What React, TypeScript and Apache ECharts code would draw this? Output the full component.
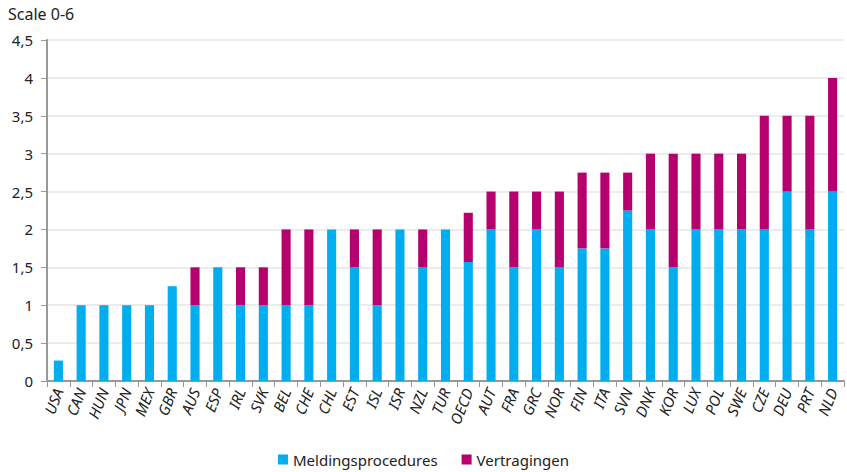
import React, { useEffect, useRef } from "react";
import * as echarts from "echarts";

const categories = ["USA","CAN","HUN","JPN","MEX","GBR","AUS","ESP","IRL","SVK","BEL","CHE","CHL","EST","ISL","ISR","NZL","TUR","OECD","AUT","FRA","GRC","NOR","FIN","ITA","SVN","DNK","KOR","LUX","POL","SWE","CZE","DEU","PRT","NLD"];
const meldingsprocedures = [0.27,1,1,1,1,1.25,1,1.5,1,1,1,1,2,1.5,1,2,1.5,2,1.57,2,1.5,2,1.5,1.75,1.75,2.25,2,1.5,2,2,2,2,2.5,2,2.5];
const vertragingen = [0,0,0,0,0,0,0.5,0,0.5,0.5,1,1,0,0.5,1,0,0.5,0,0.65,0.5,1,0.5,1,1,1,0.5,1,1.5,1,1,1,1.5,1,1.5,1.5];
const yTickLabels: Record<string, string> = { "0": "0", "0.5": "0,5", "1": "1", "1.5": "1,5", "2": "2", "2.5": "2,5", "3": "3", "3.5": "3,5", "4": "4", "4.5": "4,5" };

const BLUE = "#00aeef";
const MAGENTA = "#b5006e";
const FONT = "Noto Sans";

export default function App() {
  const ref = useRef<HTMLDivElement>(null);
  useEffect(() => {
    const chart = echarts.init(ref.current!, null, { renderer: "svg" });
    chart.setOption({
      animation: false,
      textStyle: { fontFamily: FONT },
      graphic: [
        { type: "text", left: 8, top: 6, style: { text: "Scale 0-6", fontSize: 16, fontFamily: FONT, fill: "#222" } },
      ],
      legend: {
        bottom: 0,
        left: "center",
        itemWidth: 10,
        itemHeight: 10,
        itemGap: 24,
        icon: "rect",
        textStyle: { fontSize: 15, color: "#222", fontFamily: FONT },
        data: ["Meldingsprocedures", "Vertragingen"],
      },
      grid: { left: 47, right: 3, top: 40, bottom: 91, containLabel: false },
      xAxis: {
        type: "category",
        data: categories,
        axisLine: { lineStyle: { color: "#999", width: 2 } },
        axisTick: { show: true, length: 6, lineStyle: { color: "#999" } },
        axisLabel: { rotate: 68, fontSize: 15, color: "#222", interval: 0, margin: 8, fontStyle: "italic" },
      },
      yAxis: {
        type: "value",
        min: 0,
        max: 4.5,
        interval: 0.5,
        axisLine: { show: true, lineStyle: { color: "#999", width: 2 } },
        axisTick: { show: true, length: 6, lineStyle: { color: "#999" } },
        axisLabel: {
          fontSize: 15,
          color: "#222",
          margin: 14,
          formatter: (v: number) => yTickLabels[String(v)] ?? String(v).replace(".", ","),
        },
        splitLine: { lineStyle: { color: "#e6e6e6", width: 1.5 } },
      },
      series: [
        {
          name: "Meldingsprocedures",
          type: "bar",
          stack: "total",
          barWidth: "40%",
          data: meldingsprocedures,
          itemStyle: { color: BLUE },
        },
        {
          name: "Vertragingen",
          type: "bar",
          stack: "total",
          barWidth: "40%",
          data: vertragingen,
          itemStyle: { color: MAGENTA },
        },
      ],
    });
    return () => chart.dispose();
  }, []);
  return <div ref={ref} style={{ position: "absolute", left: 0, top: 0, width: 847, height: 472 }} />;
}
